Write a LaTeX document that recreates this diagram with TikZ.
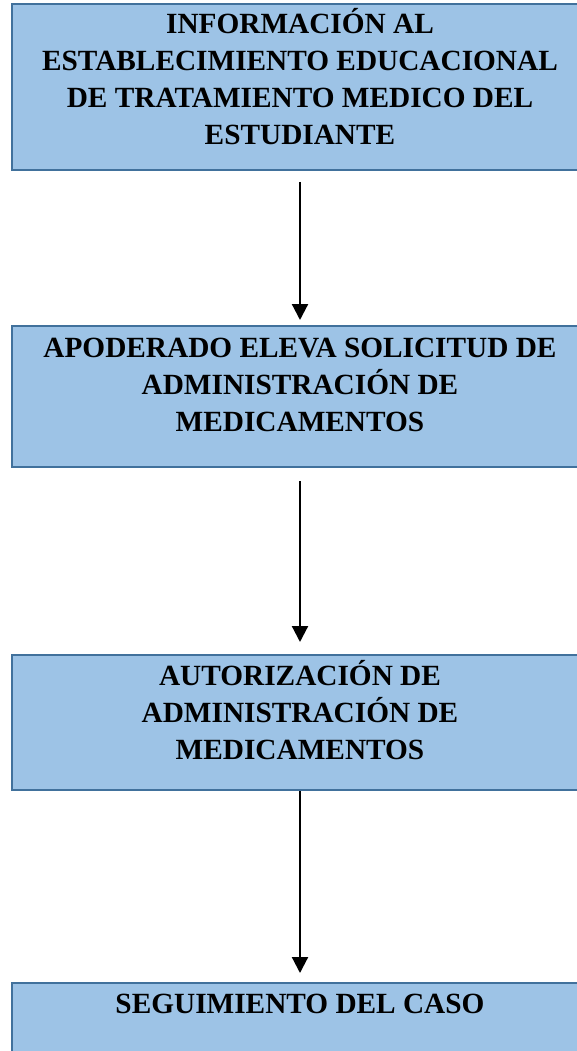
\documentclass[tikz,border=0pt]{standalone}
\usepackage{fontspec}
\setmainfont{Liberation Serif}
\usetikzlibrary{arrows.meta}
\definecolor{boxfill}{HTML}{9DC3E6}
\definecolor{boxline}{HTML}{41719C}
\tikzset{
  box/.style={draw=boxline, fill=boxfill, line width=2.8pt, minimum width=576pt, inner sep=0pt, outer sep=0pt},
  txt/.style={align=center, inner sep=0pt, anchor=north, font=\bfseries\fontsize{29.3}{37}\selectfont},
  flow/.style={line width=2.2pt, -{Triangle[width=16pt,length=16pt]}}
}
\newcommand{\firstline}{\rule{0pt}{28pt}}
\begin{document}
\begin{tikzpicture}[x=1pt,y=-1pt]
\useasboundingbox (0,0) rectangle (577,1051);
\clip (0,0) rectangle (577,1051);
\node[box, minimum height=166pt] (b1) at (300,87) {};
\node[box, minimum height=141pt] (b2) at (300,396.5) {};
\node[box, minimum height=135pt] (b3) at (300,722.5) {};
\node[box, minimum height=100pt] (b4) at (300,1033) {};
\node[txt] (t1) at (300,5.5) {\firstline INFORMACIÓN AL\\ESTABLECIMIENTO EDUCACIONAL\\DE TRATAMIENTO MEDICO DEL\\ESTUDIANTE};
\node[txt] (t2) at (300,329.5) {\firstline APODERADO ELEVA SOLICITUD DE\\ADMINISTRACIÓN DE\\MEDICAMENTOS};
\node[txt] (t3) at (300,657.5) {\firstline AUTORIZACIÓN DE\\ADMINISTRACIÓN DE\\MEDICAMENTOS};
\node[txt] (t4) at (300,985.5) {\firstline SEGUIMIENTO DEL CASO};
\draw[flow] ([yshift=-12pt]b1.south) -- ([yshift=6pt]b2.north);
\draw[flow] ([yshift=-14pt]b2.south) -- ([yshift=13pt]b3.north);
\draw[flow] ([yshift=-1pt]b3.south) -- ([yshift=10pt]b4.north);
\end{tikzpicture}
\end{document}
